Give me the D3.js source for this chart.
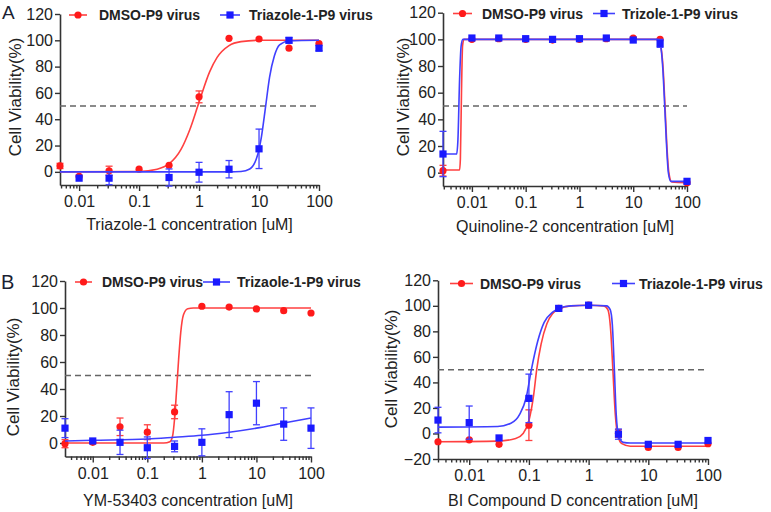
<!DOCTYPE html>
<html>
<head>
<meta charset="utf-8">
<script src="https://cdn.jsdelivr.net/npm/d3@7"></script>
<style>
  body { margin: 0; background: #fff; }
  svg { display: block; font-family: "Liberation Sans", Arial, sans-serif; }
</style>
</head>
<body>
<svg id="chart" width="771" height="512"></svg>
<script>
// ---- data (concentration in uM, viability in %) ----
const conc1 = [0.0048, 0.01, 0.0316, 0.1, 0.316, 1, 3.16, 10, 31.6, 100];
const red1 = [4.5, -3.5, 0.8, 2, 5, 57, 101.5, 101, 94, 97.5];
const red1Err = [2, 1, 3.5, 1, 1, 4.5, 1, 1, 1, 1];
const blue1 = [null, -4.8, -4.8, null, -4.3, -0.3, 2, 17.5, 100, 94];
const blue1Err = [0, 1.5, 5, 0, 6.5, 7.5, 6.6, 15, 2, 2];
const red1Curve = [[0.0048, 0], [0.1, 0.3], [0.2, 2], [0.316, 6], [0.5, 17], [0.7, 32], [1, 53], [1.5, 76], [2, 87], [3.16, 96], [5, 99], [10, 100], [100, 100]];
const blue1Curve = [[0.0048, 0], [3.16, 0], [5, 0.3], [7, 2.2], [9, 9.7], [10, 17], [11, 27], [12.9, 50], [15, 72], [18, 88], [22, 96.5], [31.6, 99.5], [100, 100]];

const conc2 = [0.0029, 0.01, 0.0316, 0.1, 0.316, 1, 3.16, 10, 31.6, 100];
const red2 = [1.5, 100, 100.5, 100, 99.5, 100, 100.5, 101, 100, -7.5];
const red2Err = [4, 1, 1, 1, 1, 1, 1, 1, 1, 1];
const blue2 = [14, 101, 101, 100.5, 100, 100.5, 101, 99.5, 97, -6.5];
const blue2Err = [17, 1, 1, 1, 1, 1, 1, 1.5, 3, 1];
const red2Curve = [[0.0029, 2], [0.0059, 2], [0.0061, 10], [0.0064, 60], [0.0067, 95], [0.0071, 100], [28, 100], [32, 96], [36, 78], [39, 50], [42, 22], [46, 0], [52, -7], [100, -7.5]];
const blue2Curve = [[0.0029, 14], [0.0052, 14], [0.0055, 25], [0.0059, 70], [0.0063, 95], [0.0068, 100], [28, 100], [32, 96], [35.5, 78], [38.5, 50], [41.5, 22], [45, 0], [50, -6.5], [100, -6.5]];

const conc3 = [0.0031, 0.01, 0.0316, 0.1, 0.316, 1, 3.16, 10, 31.6, 100];
const red3 = [-0.5, 0.5, 12, 8, 23, 101.3, 100.7, 99.3, 98, 96.3];
const red3Err = [3, 1, 6.5, 5.5, 5, 1, 1, 1, 1, 1];
const blue3 = [11, 1.5, 0.5, -3.5, -2.5, 0.5, 21, 29.5, 14, 11];
const blue3Err = [7, 1.5, 9, 8, 4, 10, 17, 16, 12, 15];
const red3Curve = [[0.0031, 0], [0.2, 0], [0.26, 1], [0.29, 5], [0.316, 18], [0.345, 40], [0.375, 62], [0.41, 82], [0.46, 95], [0.55, 99.5], [0.7, 100], [100, 100]];
const blue3Curve = [[0.0031, 1.5], [0.01, 2], [0.1, 3], [0.316, 4.3], [1, 5.7], [3.16, 8], [10, 11], [31.6, 14.8], [100, 18.5]];

const conc4 = [0.003, 0.01, 0.0316, 0.1, 0.316, 1, 3.16, 10, 31.6, 100];
const red4 = [-6.5, -5, -8.5, 6.5, 98, 100.5, 0, -11, -11, -8];
const red4Err = [1, 1, 1, 12, 1, 1, 3, 1, 1, 1];
const blue4 = [10.5, 8.5, -3.5, 27.5, 98, 100.5, -0.5, -8.5, -8.5, -5.5];
const blue4Err = [10, 13, 1, 19, 2, 1, 4, 1, 1, 1];
const red4Curve = [[0.003, -6.5], [0.03, -6], [0.06, -4], [0.08, 0], [0.1, 10], [0.12, 30], [0.135, 50], [0.16, 70], [0.2, 86], [0.25, 94], [0.316, 97.5], [0.5, 100], [1, 100.5], [1.8, 100], [2.1, 97], [2.35, 80], [2.55, 50], [2.8, 15], [3.1, -2], [3.6, -8], [5, -10], [100, -10]];
const blue4Curve = [[0.003, 5], [0.03, 5.5], [0.05, 8], [0.07, 15], [0.09, 28], [0.11, 50], [0.14, 72], [0.18, 87], [0.25, 95], [0.316, 98], [0.5, 100], [1, 100.5], [2, 100], [2.3, 97], [2.5, 85], [2.7, 50], [2.9, 15], [3.2, -2], [3.8, -7], [5, -7.5], [100, -7.5]];

const yTicksA = [0, 20, 40, 60, 80, 100, 120];
const yTicksB = [-20, 0, 20, 40, 60, 80, 100, 120];
const xLabels = [0.01, 0.1, 1, 10, 100];
const redName = "DMSO-P9 virus";
const blueNames = ["Triazole-1-P9 virus", "Trizole-1-P9 virus", "Trizaole-1-P9 virus", "Triazole-1-P9 virus"];
const xTitles = ["Triazole-1 concentration [uM]", "Quinoline-2 concentration [uM]", "YM-53403 concentration [uM]", "BI Compound D concentration [uM]"];

const RED = "#ff1a1a", BLUE = "#1a1aff";
const RED_LINE = "#ff4040", BLUE_LINE = "#4040ff";
const AXIS = "#333";

const svg = d3.select("#chart");

const panels = [
  { conc: conc1, red: red1, redErr: red1Err, blue: blue1, blueErr: blue1Err, redCurve: red1Curve, blueCurve: blue1Curve,
    xRange: [60, 319], yDomain: [-10, 120], yRange: [185, 14], yTicks: yTicksA,
    title: xTitles[0], blueName: blueNames[0], titleX: 15, titleY: 97, xTitleY: 230,
    legY: 15, leg: [69, 87, 99, 220, 240, 249] },
  { conc: conc2, red: red2, redErr: red2Err, blue: blue2, blueErr: blue2Err, redCurve: red2Curve, blueCurve: blue2Curve,
    xRange: [443, 687], yDomain: [-10, 120], yRange: [186, 12.7], yTicks: yTicksA,
    title: xTitles[1], blueName: blueNames[1], titleX: 403, titleY: 97, xTitleY: 232,
    legY: 13.5, leg: [453, 472, 482, 593, 615, 622] },
  { conc: conc3, red: red3, redErr: red3Err, blue: blue3, blueErr: blue3Err, redCurve: red3Curve, blueCurve: blue3Curve,
    xRange: [65, 311], yDomain: [-10, 120], yRange: [456.5, 281], yTicks: yTicksA,
    title: xTitles[2], blueName: blueNames[2], titleX: 13, titleY: 377, xTitleY: 506,
    legY: 282, leg: [75, 92, 102, 203, 230, 237] },
  { conc: conc4, red: red4, redErr: red4Err, blue: blue4, blueErr: blue4Err, redCurve: red4Curve, blueCurve: blue4Curve,
    xRange: [438, 708], yDomain: [-20, 120], yRange: [459, 280.3], yTicks: yTicksB,
    title: xTitles[3], blueName: blueNames[3], titleX: 391, titleY: 369, xTitleY: 506,
    legY: 283.5, leg: [450, 473, 480, 612, 635, 639] }
];

function isMajor(d) {
  const l = Math.log10(d);
  return Math.abs(l - Math.round(l)) < 1e-6;
}

function drawPanel(p) {
  const g = svg.append("g");
  const x = d3.scaleLog().domain([p.conc[0], 100]).range(p.xRange);
  const y = d3.scaleLinear().domain(p.yDomain).range(p.yRange);

  // y axis
  const ya = g.append("g")
    .attr("transform", `translate(${p.xRange[0]},0)`)
    .call(d3.axisLeft(y).tickValues(p.yTicks).tickSize(5).tickSizeOuter(0).tickPadding(2));
  // x axis with log minor ticks
  const xa = g.append("g")
    .attr("transform", `translate(0,${p.yRange[0]})`)
    .call(d3.axisBottom(x).tickValues(x.ticks()).tickSizeOuter(0).tickPadding(5)
      .tickFormat(d => isMajor(d) ? d3.format("~g")(d) : ""));
  xa.selectAll(".tick line").attr("y2", d => isMajor(d) ? 6 : 3.5);
  xa.selectAll(".tick text").attr("y", 11);
  [ya, xa].forEach(a => {
    a.select(".domain").attr("stroke", AXIS).attr("stroke-width", 1.6);
    a.selectAll(".tick line").attr("stroke", AXIS).attr("stroke-width", 1.4);
    a.selectAll(".tick text").attr("fill", "#222").attr("font-size", 16)
      .attr("font-family", '"Liberation Sans", Arial, sans-serif');
  });

  // axis titles
  g.append("text")
    .attr("transform", `translate(${p.titleX},${p.titleY}) rotate(-90)`)
    .attr("text-anchor", "middle").attr("dy", "0.35em")
    .attr("font-size", 17).attr("fill", "#222")
    .text("Cell Viability(%)");
  g.append("text")
    .attr("x", (p.xRange[0] + p.xRange[1]) / 2).attr("y", p.xTitleY)
    .attr("text-anchor", "middle").attr("font-size", 16).attr("fill", "#222")
    .text(p.title);

  // 50% reference line
  g.append("line")
    .attr("x1", p.xRange[0]).attr("x2", x(100))
    .attr("y1", y(50)).attr("y2", y(50))
    .attr("stroke", "#666").attr("stroke-width", 1.5).attr("stroke-dasharray", "6,4");

  const line = d3.line().x(d => x(d[0])).y(d => y(d[1])).curve(d3.curveMonotoneX);

  function series(vals, errs, curve, color, lineColor, square) {
    const pts = p.conc.map((c, i) => ({ c, v: vals[i], e: errs[i] })).filter(d => d.v !== null);
    const eb = g.append("g").attr("stroke", lineColor).attr("stroke-width", 1.3);
    pts.filter(d => d.e > 1.5).forEach(d => {
      const cx = x(d.c);
      eb.append("line").attr("x1", cx).attr("x2", cx).attr("y1", y(d.v - d.e)).attr("y2", y(d.v + d.e));
      [d.v - d.e, d.v + d.e].forEach(v => eb.append("line")
        .attr("x1", cx - 3.5).attr("x2", cx + 3.5).attr("y1", y(v)).attr("y2", y(v)));
    });
    g.append("path").datum(curve).attr("d", line)
      .attr("fill", "none").attr("stroke", lineColor).attr("stroke-width", 1.6);
    if (square) {
      g.selectAll(null).data(pts).enter().append("rect")
        .attr("x", d => x(d.c) - 3.6).attr("y", d => y(d.v) - 3.6)
        .attr("width", 7.2).attr("height", 7.2).attr("fill", color);
    } else {
      g.selectAll(null).data(pts).enter().append("circle")
        .attr("cx", d => x(d.c)).attr("cy", d => y(d.v)).attr("r", 3.6).attr("fill", color);
    }
  }
  series(p.red, p.redErr, p.redCurve, RED, RED_LINE, false);
  series(p.blue, p.blueErr, p.blueCurve, BLUE, BLUE_LINE, true);

  // legend
  const L = p.leg, ly = p.legY;
  g.append("line").attr("x1", L[0]).attr("x2", L[1]).attr("y1", ly).attr("y2", ly)
    .attr("stroke", RED_LINE).attr("stroke-width", 1.6);
  g.append("circle").attr("cx", (L[0] + L[1]) / 2).attr("cy", ly).attr("r", 3.6).attr("fill", RED);
  g.append("text").attr("x", L[2]).attr("y", ly + 5).attr("font-size", 14).attr("font-weight", "bold")
    .attr("fill", "#222").text(redName);
  g.append("line").attr("x1", L[3]).attr("x2", L[4]).attr("y1", ly).attr("y2", ly)
    .attr("stroke", BLUE_LINE).attr("stroke-width", 1.6);
  g.append("rect").attr("x", (L[3] + L[4]) / 2 - 3.6).attr("y", ly - 3.6)
    .attr("width", 7.2).attr("height", 7.2).attr("fill", BLUE);
  g.append("text").attr("x", L[5]).attr("y", ly + 5).attr("font-size", 14).attr("font-weight", "bold")
    .attr("fill", "#222").text(p.blueName);
}

panels.forEach(drawPanel);

// panel letters
svg.append("text").attr("x", 2).attr("y", 19).attr("font-size", 19).attr("fill", "#1a1f33").text("A");
svg.append("text").attr("x", 1).attr("y", 289).attr("font-size", 20).attr("fill", "#1a1f33").text("B");
</script>
</body>
</html>
